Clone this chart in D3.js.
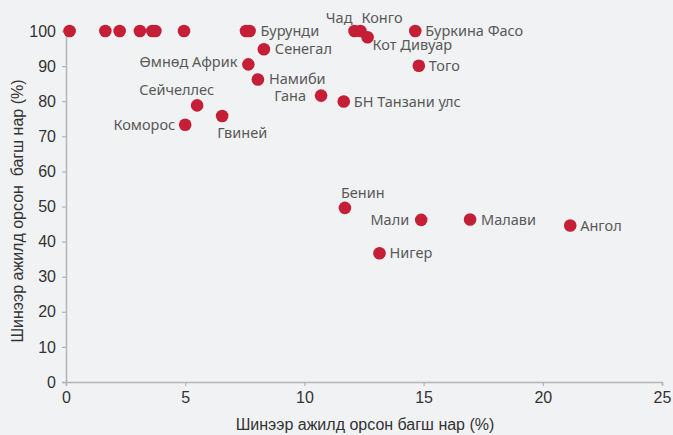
<!DOCTYPE html>
<html>
<head>
<meta charset="utf-8">
<script src="https://cdn.jsdelivr.net/npm/d3@7"></script>
<style>
  body { margin: 0; background: #f1f2f4; }
  svg { display: block; }
</style>
</head>
<body>
<div id="canvas"></div>
<script>
"use strict"

/* Data: newly hired teachers (%) vs trained newly hired teachers (%) */
let countries = ["", "", "", "", "", "", "", "", "Бурунди",
    "Сенегал", "Өмнөд Африк", "Намиби", "Гана", "Сейчеллес", "Гвиней", "Коморос",
    "Чад", "Конго", "Кот Дивуар", "Буркина Фасо", "Того", "БН Танзани улс",
    "Бенин", "Мали", "Малави", "Ангол", "Нигер"];
let newTeachers = [0.15, 1.65, 2.25, 3.1, 3.62, 3.75, 4.95, 7.55, 7.7,
    8.3, 7.65, 8.05, 10.7, 5.5, 6.55, 5.0,
    12.1, 12.35, 12.65, 14.65, 14.8, 11.65,
    11.7, 14.9, 16.95, 21.15, 13.15];
let trainedTeachers = [100, 100, 100, 100, 100, 100, 100, 100, 100,
    94.8, 90.5, 86.2, 81.6, 78.8, 75.8, 73.3,
    100, 100, 98.2, 100, 90.1, 79.9,
    49.6, 46.2, 46.3, 44.6, 36.7];
let xTicks = [0, 5, 10, 15, 20, 25];
let yTicks = [0, 10, 20, 30, 40, 50, 60, 70, 80, 90, 100];

/* Label placement (offsets from dot centre) */
let labelPlacement = {
    "Бурунди": [11, 0, "start"],
    "Сенегал": [11, 0, "start"],
    "Өмнөд Африк": [-11, -2, "end"],
    "Намиби": [11, -1, "start"],
    "Гана": [-15, 0, "end"],
    "Сейчеллес": [17, -15, "end"],
    "Гвиней": [-5, 17, "start"],
    "Коморос": [-10, 0, "end"],
    "Чад": [-2, -13, "end"],
    "Конго": [1, -13, "start"],
    "Кот Дивуар": [5, 8, "start"],
    "Буркина Фасо": [10, 0, "start"],
    "Того": [10, 0, "start"],
    "БН Танзани улс": [10, 0, "start"],
    "Бенин": [-4, -15, "start"],
    "Мали": [-12, 0, "end"],
    "Малави": [11, 0, "start"],
    "Ангол": [10, 0, "start"],
    "Нигер": [10, 0, "start"]
};

/* Drawing configuration */
let svgWidth = 673;
let svgHeight = 435;
let plotLeft = 66, plotRight = 662, plotTop = 31, plotBottom = 382;
let axisColor = "#b4b4b4";
let dotColor = "#c41f36";
let labelColor = "#595959";

let svg = d3.select("#canvas")
    .append("svg")
    .attr("width", svgWidth)
    .attr("height", svgHeight);

svg.append("rect")
    .attr("width", svgWidth)
    .attr("height", svgHeight)
    .attr("fill", "#f1f2f4");

let x = d3.scaleLinear().domain([0, 25]).range([plotLeft, plotRight]);
let y = d3.scaleLinear().domain([0, 100]).range([plotBottom, plotTop]);

/* Axes */
let xAxis = svg.append("g")
    .attr("transform", "translate(0," + plotBottom + ")")
    .call(d3.axisBottom(x).tickValues(xTicks).tickSize(4).tickPadding(6));
let yAxis = svg.append("g")
    .attr("transform", "translate(" + plotLeft + ",0)")
    .call(d3.axisLeft(y).tickValues(yTicks).tickSize(4).tickPadding(6));

[xAxis, yAxis].forEach(function (a) {
    a.select(".domain").attr("stroke", axisColor).attr("stroke-width", 1.5);
    a.selectAll(".tick line").attr("stroke", axisColor).attr("stroke-width", 1.2);
    a.selectAll(".tick text")
        .attr("fill", "#333")
        .style("font-family", "'Liberation Sans Narrow', 'Arial Narrow', sans-serif")
        .style("font-size", "16px");
});

/* Axis titles */
svg.append("text")
    .attr("x", (plotLeft + plotRight) / 2 + 1)
    .attr("y", 430)
    .attr("text-anchor", "middle")
    .attr("fill", "#333")
    .style("font-family", "'Liberation Sans', Arial, sans-serif")
    .style("font-size", "16px")
    .text("Шинээр ажилд орсон багш нар (%)");

svg.append("text")
    .attr("transform", "translate(23,211) rotate(-90)")
    .attr("text-anchor", "middle")
    .attr("fill", "#333")
    .style("font-family", "'Liberation Sans', Arial, sans-serif")
    .style("font-size", "16px")
    .style("white-space", "pre")
    .text("Шинээр ажилд орсон  багш нар (%)");

/* Points */
let points = d3.range(countries.length);

svg.selectAll("circle")
    .data(points)
    .join("circle")
    .attr("cx", function (i) { return x(newTeachers[i]); })
    .attr("cy", function (i) { return y(trainedTeachers[i]); })
    .attr("r", 6.3)
    .attr("fill", dotColor);

/* Country labels */
svg.selectAll("text.label")
    .data(points.filter(function (i) { return countries[i] !== ""; }))
    .join("text")
    .attr("class", "label")
    .attr("x", function (i) { return x(newTeachers[i]) + labelPlacement[countries[i]][0]; })
    .attr("y", function (i) { return y(trainedTeachers[i]) + labelPlacement[countries[i]][1]; })
    .attr("dy", "0.35em")
    .attr("text-anchor", function (i) { return labelPlacement[countries[i]][2]; })
    .attr("fill", labelColor)
    .style("font-family", "'Noto Sans', sans-serif")
    .style("font-size", "14.5px")
    .text(function (i) { return countries[i]; });
</script>
</body>
</html>
